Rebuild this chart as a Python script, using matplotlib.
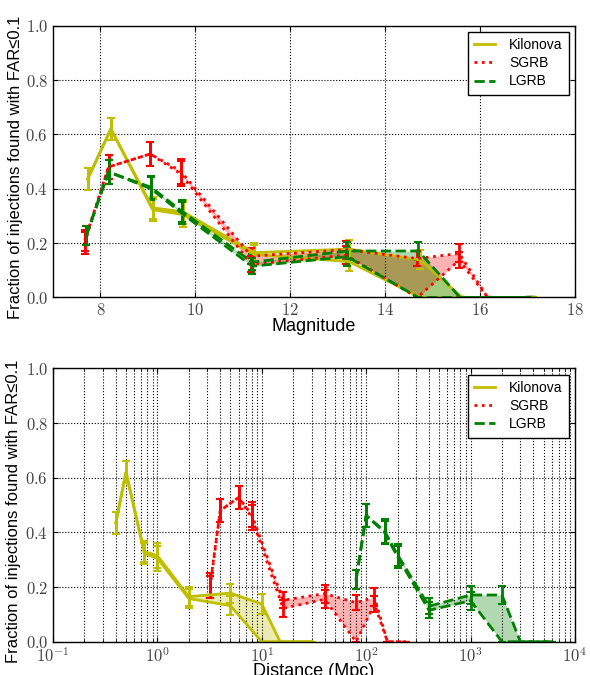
import math
import matplotlib
matplotlib.use("Agg")
import matplotlib.pyplot as plt
from matplotlib.ticker import FixedLocator, FuncFormatter, LogLocator, NullFormatter

plt.rcParams['font.family'] = ['Liberation Sans', 'DejaVu Sans']
plt.rcParams['mathtext.fontset'] = 'cm'

# ---------------- data ----------------
series_names = ["Kilonova", "SGRB", "LGRB"]

kn_dist = [0.4, 0.5, 0.75, 1, 2, 5, 10, 15, 30]
kn_mag = [7.73, 8.22, 9.10, 9.74, 11.24, 13.24, 14.74, 15.62, 17.12]
kn_hi = [0.435, 0.62, 0.33, 0.315, 0.165, 0.178, 0.138, 0.0, 0.0]
kn_lo = [0.435, 0.62, 0.323, 0.305, 0.158, 0.132, 0.0, 0.0, 0.0]
kn_err_hi = [0.04, 0.04, 0.04, 0.045, 0.035, 0.035, 0.035, 0.0, 0.0]
kn_err_lo = [0.04, 0.04, 0.04, 0.045, 0.035, 0.035, 0.0, 0.0, 0.0]

sg_dist = [3.2, 4, 6, 8, 16, 40, 80, 120, 160, 240]
sg_mag = [7.67, 8.17, 9.05, 9.69, 11.18, 13.18, 14.68, 15.56, 16.16, 17.04]
sg_hi = [0.21, 0.48, 0.528, 0.465, 0.152, 0.176, 0.143, 0.162, 0.0, 0.0]
sg_lo = [0.2, 0.48, 0.528, 0.455, 0.122, 0.155, 0.0, 0.137, 0.0, 0.0]
sg_err_hi = [0.04, 0.043, 0.043, 0.046, 0.03, 0.033, 0.027, 0.033, 0.0, 0.0]
sg_err_lo = [0.04, 0.043, 0.043, 0.046, 0.03, 0.033, 0.0, 0.03, 0.0, 0.0]

lg_dist = [80, 100, 150, 200, 400, 1000, 2000, 3000, 6000]
lg_mag = [7.70, 8.17, 9.07, 9.71, 11.20, 13.20, 14.70, 15.58, 17.08]
lg_hi = [0.227, 0.462, 0.405, 0.318, 0.13, 0.171, 0.171, 0.0, 0.0]
lg_lo = [0.227, 0.462, 0.4, 0.31, 0.115, 0.15, 0.0, 0.0, 0.0]
lg_err_hi = [0.035, 0.043, 0.043, 0.04, 0.03, 0.033, 0.033, 0.0, 0.0]
lg_err_lo = [0.035, 0.043, 0.043, 0.04, 0.03, 0.033, 0.0, 0.0, 0.0]

mag_ticks = [8, 10, 12, 14, 16, 18]
frac_ticks = [0.0, 0.2, 0.4, 0.6, 0.8, 1.0]
dist_ticks = [1e-1, 1e0, 1e1, 1e2, 1e3, 1e4]

colors = ['y', 'r', 'g']
styles = ['-', ':', '--']

ylabel = "Fraction of injections found with FAR\u22640.1"

fig = plt.figure(figsize=(5.9, 6.75), dpi=100)
ax1 = fig.add_axes([0.0898, 0.5593, 0.8847, 0.4027])
ax2 = fig.add_axes([0.0898, 0.0493, 0.8847, 0.4048])

sets_mag = [(kn_mag, kn_hi, kn_lo, kn_err_hi, kn_err_lo),
            (sg_mag, sg_hi, sg_lo, sg_err_hi, sg_err_lo),
            (lg_mag, lg_hi, lg_lo, lg_err_hi, lg_err_lo)]
sets_dist = [(kn_dist, kn_hi, kn_lo, kn_err_hi, kn_err_lo),
             (sg_dist, sg_hi, sg_lo, sg_err_hi, sg_err_lo),
             (lg_dist, lg_hi, lg_lo, lg_err_hi, lg_err_lo)]


def draw(ax, sets, label_x):
    handles = []
    for (x, hi, lo, ehi, elo), c, ls, name in zip(sets, colors, styles, series_names):
        ax.fill_between(x, lo, hi, color=c, alpha=0.3, linewidth=0)
        for y, e in ((hi, ehi), (lo, elo)):
            ax.errorbar(x, y, yerr=e, color=c, ls=ls, lw=2,
                        elinewidth=2, capsize=3, capthick=1.5)
        h, = ax.plot([], [], color=c, ls=ls, lw=2, label=name)
        handles.append(h)
    leg = ax.legend(handles=handles, loc='upper right', fontsize=10,
                    fancybox=False, framealpha=1, edgecolor='black',
                    borderpad=0.45, labelspacing=0.3, handlelength=1.5,
                    handletextpad=1.0, borderaxespad=0.45)
    leg.get_frame().set_linewidth(1.0)
    ax.set_ylim(0, 1.0)
    ax.yaxis.set_major_locator(FixedLocator(frac_ticks))
    ax.yaxis.set_major_formatter(FuncFormatter(lambda v, p: r'$%.1f$' % v))
    ax.set_ylabel(ylabel, fontsize=12)
    ax.yaxis.set_label_coords(label_x, 0.478)
    ax.tick_params(direction='in', which='both', top=True, right=True,
                   labelsize=12, colors='black')
    for s in ax.spines.values():
        s.set_linewidth(1.0)


draw(ax1, sets_mag, -0.057)
ax1.set_xlim(7, 18)
ax1.xaxis.set_major_locator(FixedLocator(mag_ticks))
ax1.xaxis.set_major_formatter(FuncFormatter(lambda v, p: r'$%d$' % v))
ax1.set_xlabel("Magnitude", fontsize=13, labelpad=0)
ax1.grid(True, which='major', color='black', ls=':', lw=0.8)

draw(ax2, sets_dist, -0.062)
ax2.set_xscale('log')
ax2.set_xlim(1e-1, 1e4)
ax2.xaxis.set_major_locator(FixedLocator(dist_ticks))
ax2.xaxis.set_major_formatter(FuncFormatter(lambda v, p: r'$10^{%d}$' % round(math.log10(v))))
ax2.xaxis.set_minor_locator(LogLocator(base=10, subs=range(2, 10), numticks=20))
ax2.xaxis.set_minor_formatter(NullFormatter())
ax2.set_xlabel("Distance (Mpc)", fontsize=13, labelpad=-1.5)
ax2.grid(True, which='both', axis='x', color='black', ls=':', lw=0.8)
ax2.grid(True, which='major', axis='y', color='black', ls=':', lw=0.8)

for ax in (ax1, ax2):
    for t in ax.get_yticklabels() + ax.get_xticklabels():
        t.set_color('#444444')

fig.savefig("out.png", dpi=100)
